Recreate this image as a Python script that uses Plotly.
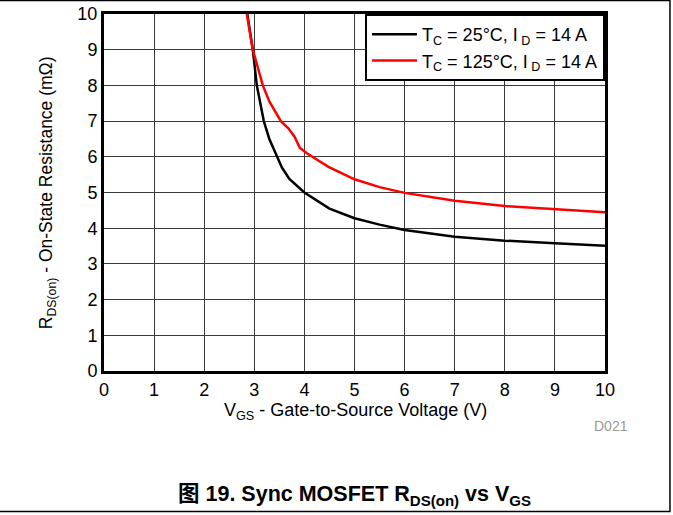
import plotly.graph_objects as go

# Data
vgs_25 = [2.86, 2.97, 3.05, 3.19, 3.3, 3.42, 3.55, 3.7, 4.0, 4.5, 5.0, 5.5, 6.0, 7.0, 8.0, 9.0, 10.0]
rds_25 = [10.0, 9.0, 8.0, 7.0, 6.5, 6.1, 5.7, 5.38, 5.0, 4.55, 4.28, 4.1, 3.95, 3.76, 3.65, 3.58, 3.51]

vgs_125 = [2.85, 2.97, 3.17, 3.3, 3.53, 3.68, 3.8, 3.91, 4.05, 4.48, 5.0, 5.5, 6.0, 7.0, 8.0, 9.0, 10.0]
rds_125 = [10.0, 9.0, 8.0, 7.55, 7.0, 6.8, 6.57, 6.25, 6.1, 5.72, 5.37, 5.15, 4.99, 4.77, 4.62, 4.53, 4.45]

x_ticks = list(range(0, 11))
y_ticks = list(range(0, 11))

FONT = "Liberation Sans, Arial, Noto Sans CJK SC, sans-serif"

fig = go.Figure()
fig.add_trace(go.Scatter(x=vgs_25, y=rds_25, mode="lines",
                         line=dict(color="black", width=2.5),
                         name="T<sub>C</sub> = 25°C, I<sub> D</sub> = 14 A"))
fig.add_trace(go.Scatter(x=vgs_125, y=rds_125, mode="lines",
                         line=dict(color="#ff0000", width=2.5),
                         name="T<sub>C</sub> = 125°C, I<sub> D</sub> = 14 A"))

axis_common = dict(range=[0, 10], showgrid=True, gridcolor="#3a3a3a", gridwidth=1,
                   showline=True, linecolor="black", linewidth=3, mirror=True,
                   zeroline=False, ticks="", tickfont=dict(size=18, color="black", family=FONT),
                   fixedrange=True)

fig.update_xaxes(tickvals=x_ticks, ticktext=[str(v) for v in x_ticks], **axis_common)
fig.update_yaxes(tickvals=y_ticks, ticktext=[str(v) for v in y_ticks], **axis_common)

fig.update_layout(
    width=673, height=515,
    margin=dict(l=104, r=68, t=14, b=144, autoexpand=False),
    paper_bgcolor="white", plot_bgcolor="white",
    font=dict(family=FONT, color="black", size=18),
    showlegend=True,
    legend=dict(x=1, y=1, xanchor="right", yanchor="top",
                bgcolor="white", bordercolor="black", borderwidth=2,
                font=dict(size=18, family=FONT), tracegroupgap=0,
                itemwidth=45),
    annotations=[
        dict(text="R<sub>DS(on)</sub> - On-State Resistance (mΩ)", xref="paper", yref="paper",
             x=-0.1138, y=0.501, xanchor="center", yanchor="middle", textangle=-90,
             showarrow=False, font=dict(size=17.5, family=FONT)),
        dict(text="V<sub>GS</sub> - Gate-to-Source Voltage (V)", xref="paper", yref="paper",
             x=0.501, y=-0.1148, xanchor="center", yanchor="middle",
             showarrow=False, font=dict(size=18, family=FONT)),
        dict(text="D021", xref="paper", yref="paper", x=1.012, y=-0.154,
             xanchor="center", yanchor="middle", showarrow=False,
             font=dict(size=14, color="#999999", family=FONT)),
        dict(text="<b>图 19. Sync MOSFET R<sub>DS(on)</sub> vs V<sub>GS</sub></b>", xref="paper",
             yref="paper", x=0.5, y=-0.348, xanchor="center", yanchor="middle",
             showarrow=False, font=dict(size=21.5, family=FONT)),
    ],
    shapes=[
        dict(type="rect", xref="paper", yref="paper", x0=-0.25, x1=1.1297, y0=-0.3936, y1=1.0378,
             line=dict(color="black", width=1.5), layer="below"),
    ],
)

fig.write_html(
    "out.html",
    config={"displayModeBar": False},
    post_script=(
        "document.documentElement.style.margin='0';document.body.style.margin='0';"
        "document.body.style.padding='0';"
        "var d=document.getElementById('{plot_id}');"
        "d.style.position='absolute';d.style.left='0px';d.style.top='0px';"
    ),
)
